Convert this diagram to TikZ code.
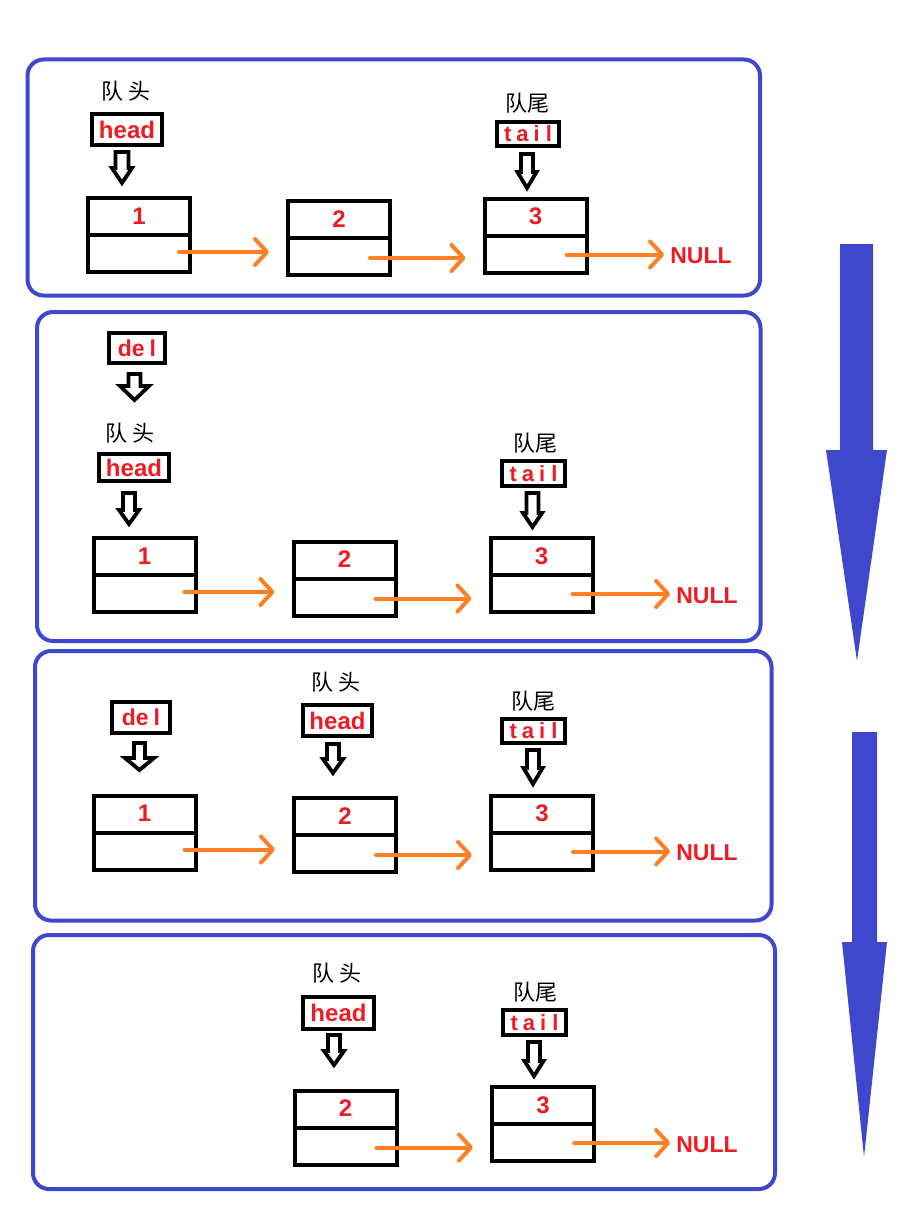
\documentclass[tikz,border=0pt]{standalone}
\usepackage{fontspec}
\setmainfont{Liberation Sans}
\newfontfamily\cjk{Noto Sans CJK SC}
\usetikzlibrary{arrows.meta,calc}
\definecolor{pblue}{HTML}{3F48CC}
\definecolor{porange}{HTML}{FF7F27}
\definecolor{pred}{HTML}{ED1C24}
\tikzset{
 panel/.style={draw=pblue, line width=4pt, rounded corners=16pt},
 nbox/.style={draw=black, line width=4pt, minimum width=102pt, minimum height=74pt, inner sep=0pt},
 divider/.style={draw=black, line width=4pt},
 lbox/.style={draw=black, line width=4pt, inner sep=0pt, text=pred},
 headtxt/.style={lbox, font=\bfseries\fontsize{24}{24}\selectfont},
 tailtxt/.style={lbox, font=\bfseries\fontsize{22}{22}\selectfont},
 deltxt/.style={lbox, font=\bfseries\fontsize{23}{23}\selectfont},
 num/.style={text=pred, inner sep=0pt, font=\bfseries\fontsize{24}{24}\selectfont},
 nulltxt/.style={text=pred, inner sep=0pt, font=\bfseries\fontsize{23}{23}\selectfont},
 cn/.style={inner sep=0pt, font=\cjk\fontsize{22}{22}\selectfont},
 oarr/.style={draw=porange, line width=4pt, line cap=round, -{Straight Barb[round,length=12pt,width=26pt]}},
 hollow/.style={draw=black, fill=white, line width=3.8pt, line join=miter},
 bigarrow/.style={fill=pblue, draw=none},
}
% hollow arrow: x, top, head-base y, tip y, shaft half width, head half width
\newcommand{\harrow}[6]{\draw[hollow] (#1-#5,#2) -- (#1+#5,#2) -- (#1+#5,#3) -- (#1+#6,#3) -- (#1,#4) -- (#1-#6,#3) -- (#1-#5,#3) -- cycle;}
% list node: name, x, y, digit
\newcommand{\lnode}[4]{\node[nbox] (#1) at (#2,#3) {};
 \draw[divider] (#1.west) -- (#1.east);
 \node[num] (#1d) at ([shift={(0,-19)}]#1.center) {#4};}
\begin{document}
\begin{tikzpicture}[x=1pt,y=-1pt]
\useasboundingbox (0,0) rectangle (909,1217);

% big blue arrows
\fill[bigarrow] (840,244) -- (873,244) -- (873,450) -- (887,450) -- (857,661) -- (826,450) -- (840,450) -- cycle;
\fill[bigarrow] (852,732) -- (877,732) -- (877,942) -- (887,942) -- (864,1157) -- (842,942) -- (852,942) -- cycle;

% panels
\draw[panel] (27.5,59.5) rectangle (760,295.5);
\draw[panel] (37,312) rectangle (760.5,641);
\draw[panel] (35,651) rectangle (771.5,920.5);
\draw[panel] (33,935) rectangle (775,1189);

% ---------- panel 1 ----------
\node[cn] (p1hl) at (126,91.5) {队\hspace{5pt}头};
\node[headtxt, minimum width=70pt, minimum height=31pt] (p1h) at (127,129.5) {head};
\harrow{122}{152}{168}{183}{6.5}{10}
\node[cn] (p1tl) at (527.5,103.5) {队尾};
\node[tailtxt, minimum width=62pt, minimum height=24pt] (p1t) at (528,134) {t\kern5pt a\kern5pt i\kern6pt l};
\harrow{527}{154}{172}{188}{6}{9.5}
\lnode{p1n1}{139}{235}{1}
\lnode{p1n2}{339}{238}{2}
\lnode{p1n3}{535.5}{235.5}{3}
\node[nulltxt, anchor=center] (p1null) at (701,255.5) {NULL};
\coordinate (p1s1) at ([shift={(40,17)}]p1n1.center);
\coordinate (p1s2) at ([shift={(31,20)}]p1n2.center);
\coordinate (p1s3) at ([shift={(31,19)}]p1n3.center);
\draw[oarr] (p1s1) -- ($(p1s1 -| p1n2.west)+(-17,0)$);
\draw[oarr] (p1s2) -- ($(p1s2 -| p1n3.west)+(-17,0)$);
\draw[oarr] (p1s3) -- ($(p1s3 -| p1null.west)+(-6,0)$);

% ---------- panel 2 ----------
\node[deltxt, minimum width=56pt, minimum height=30pt] (p2d) at (137,348) {de\kern5pt l};
\harrow{134.5}{374}{386}{400}{6}{14.5}
\node[cn] (p2hl) at (130,433.5) {队\hspace{5pt}头};
\node[headtxt, minimum width=70pt, minimum height=27pt] (p2h) at (134,467.5) {head};
\harrow{129}{493}{510}{524}{6}{10}
\node[cn] (p2tl) at (535,443) {队尾};
\node[tailtxt, minimum width=63pt, minimum height=25pt] (p2t) at (533.5,473.5) {t\kern5pt a\kern5pt i\kern6pt l};
\harrow{532.5}{493}{513}{527}{6}{9.5}
\lnode{p2n1}{144.5}{575}{1}
\lnode{p2n2}{344.5}{578.5}{2}
\lnode{p2n3}{541.5}{575}{3}
\node[nulltxt] (p2null) at (707,595.5) {NULL};
\coordinate (p2s1) at ([shift={(40,17)}]p2n1.center);
\coordinate (p2s2) at ([shift={(31,20)}]p2n2.center);
\coordinate (p2s3) at ([shift={(31,19)}]p2n3.center);
\draw[oarr] (p2s1) -- ($(p2s1 -| p2n2.west)+(-17,0)$);
\draw[oarr] (p2s2) -- ($(p2s2 -| p2n3.west)+(-17,0)$);
\draw[oarr] (p2s3) -- ($(p2s3 -| p2null.west)+(-6,0)$);

% ---------- panel 3 ----------
\node[deltxt, minimum width=58pt, minimum height=31pt] (p3d) at (141,717.5) {de\kern5pt l};
\harrow{139.5}{743}{758}{770}{5.5}{14.5}
\node[cn] (p3hl) at (336,682.5) {队\hspace{5pt}头};
\node[headtxt, minimum width=69pt, minimum height=31pt] (p3h) at (337.5,720.5) {head};
\harrow{333}{744}{759}{773}{6}{10}
\node[cn] (p3tl) at (533,701) {队尾};
\node[tailtxt, minimum width=63pt, minimum height=24pt] (p3t) at (533.5,731) {t\kern5pt a\kern5pt i\kern6pt l};
\harrow{533}{750}{768}{784}{6}{9.5}
\lnode{p3n1}{144.5}{832.5}{1}
\lnode{p3n2}{345}{835}{2}
\lnode{p3n3}{542}{832.5}{3}
\node[nulltxt] (p3null) at (707,853) {NULL};
\coordinate (p3s1) at ([shift={(40,17)}]p3n1.center);
\coordinate (p3s2) at ([shift={(31,20)}]p3n2.center);
\coordinate (p3s3) at ([shift={(31,19)}]p3n3.center);
\draw[oarr] (p3s1) -- ($(p3s1 -| p3n2.west)+(-17,0)$);
\draw[oarr] (p3s2) -- ($(p3s2 -| p3n3.west)+(-17,0)$);
\draw[oarr] (p3s3) -- ($(p3s3 -| p3null.west)+(-6,0)$);

% ---------- panel 4 ----------
\node[cn] (p4hl) at (337,973) {队\hspace{5pt}头};
\node[headtxt, minimum width=71pt, minimum height=32pt] (p4h) at (338.5,1013) {head};
\harrow{334}{1035}{1051}{1065}{6}{10}
\node[cn] (p4tl) at (535,992) {队尾};
\node[tailtxt, minimum width=63pt, minimum height=25pt] (p4t) at (534.5,1022.5) {t\kern5pt a\kern5pt i\kern6pt l};
\harrow{534}{1042}{1061}{1076}{6}{9.5}
\lnode{p4n2}{345.5}{1127.5}{2}
\lnode{p4n3}{543}{1124}{3}
\node[nulltxt] (p4null) at (707,1145) {NULL};
\coordinate (p4s2) at ([shift={(31,20)}]p4n2.center);
\coordinate (p4s3) at ([shift={(31,19)}]p4n3.center);
\draw[oarr] (p4s2) -- ($(p4s2 -| p4n3.west)+(-17,0)$);
\draw[oarr] (p4s3) -- ($(p4s3 -| p4null.west)+(-6,0)$);
\end{tikzpicture}
\end{document}
